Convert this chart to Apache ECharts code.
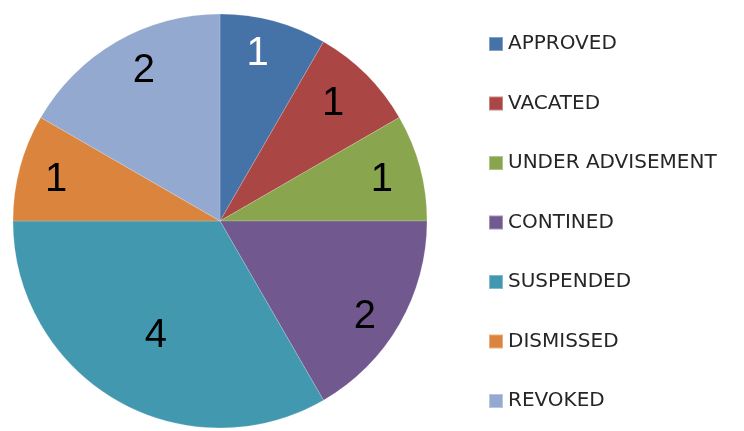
<!DOCTYPE html>
<html lang="en">
<head>
<meta charset="UTF-8">
<title></title>
<style>
    html, body { margin: 0; padding: 0; background: #fff; }
    #chart { width: 744px; height: 431px; }
</style>
</head>
<body>
<div id="chart"></div>
<script src="https://cdn.jsdelivr.net/npm/echarts@6/dist/echarts.min.js"></script>
<script>
    var categories = ['APPROVED', 'VACATED', 'UNDER ADVISEMENT', 'CONTINED', 'SUSPENDED', 'DISMISSED', 'REVOKED'];
    var values = [1, 1, 1, 2, 4, 1, 2];
    var colors = ['#4572A7', '#AA4643', '#89A54E', '#71588F', '#4198AF', '#DB843D', '#93A9CF'];

    var myChart = echarts.init(document.getElementById('chart'));

    var pieData = categories.map(function (name, i) {
        return { name: name, value: values[i], itemStyle: { color: colors[i] } };
    });
    // transparent copy, only to put the numbers further out than 'inside' would
    var labelData = categories.map(function (name, i) {
        var item = { name: name, value: values[i] };
        if (i === 0) item.label = { color: '#fff', offset: [-6, -4] };
        if (name === 'VACATED') item.label = { offset: [-6, 2] };
        if (name === 'CONTINED') item.label = { offset: [-1, 12] };
        if (name === 'SUSPENDED') item.label = { offset: [20, -31] };
        if (name === 'REVOKED') item.label = { offset: [8, -4] };
        return item;
    });

    var option = {
        animation: false,
        legend: {
            orient: 'vertical',
            left: 483,
            top: 29,
            itemWidth: 14,
            itemHeight: 14,
            itemGap: 39.5,
            icon: 'rect',
            data: categories,
            textStyle: {
                fontFamily: 'DejaVu Sans',
                fontSize: 20,
                color: '#262626'
            }
        },
        series: [{
            type: 'pie',
            center: [220, 221],
            radius: [0, 207],
            startAngle: 90,
            label: { show: false },
            labelLine: { show: false },
            itemStyle: { borderColor: 'rgba(255,255,255,0.35)', borderWidth: 0.5 },
            emphasis: { disabled: true },
            data: pieData
        }, {
            type: 'pie',
            center: [220, 221],
            radius: [124, 207],
            startAngle: 90,
            silent: true,
            legendHoverLink: false,
            itemStyle: { color: 'rgba(0,0,0,0)' },
            label: {
                show: true,
                position: 'inside',
                formatter: '{c}',
                fontFamily: 'Liberation Sans',
                fontSize: 40,
                color: '#000',
                offset: [-1, 3]
            },
            labelLine: { show: false },
            emphasis: { disabled: true },
            data: labelData
        }]
    };

    myChart.setOption(option);
</script>
</body>
</html>
